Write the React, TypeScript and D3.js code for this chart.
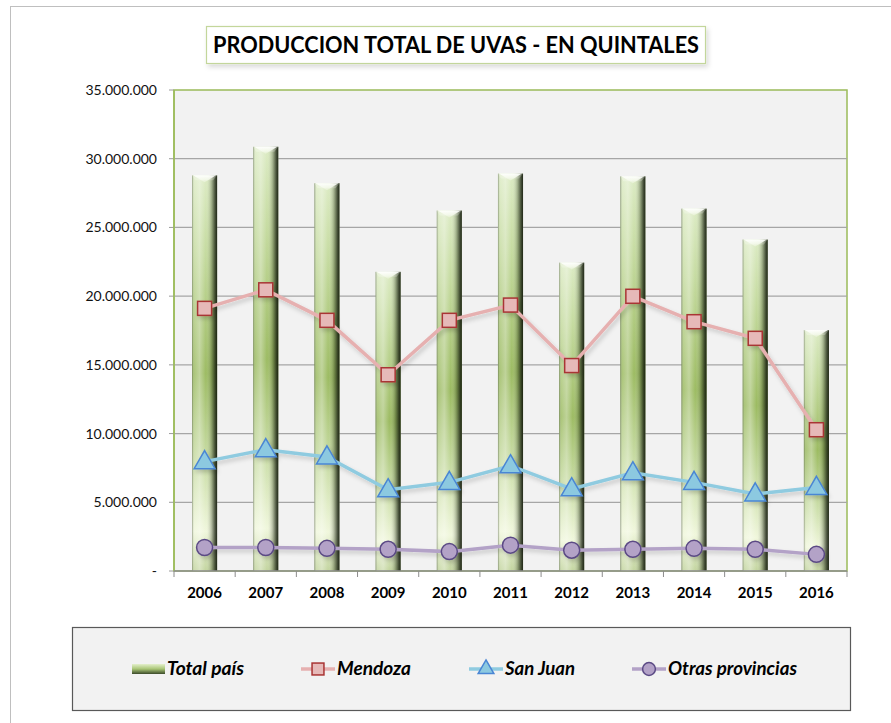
import React from "react";
import * as d3 from "d3";

const years = ["2006","2007","2008","2009","2010","2011","2012","2013","2014","2015","2016"];
const totalPais = [28790000,30870000,28220000,21770000,26230000,28920000,22440000,28720000,26370000,24120000,17530000];
const mendoza = [19110000,20460000,18240000,14280000,18240000,19350000,14950000,19990000,18140000,16930000,10280000];
const sanJuan = [7960000,8830000,8300000,5910000,6450000,7660000,5980000,7150000,6450000,5610000,6080000];
const otras = [1710000,1710000,1650000,1580000,1410000,1880000,1510000,1580000,1650000,1580000,1210000];
const yTicks = [0,5000000,10000000,15000000,20000000,25000000,30000000,35000000];
const title = "PRODUCCION TOTAL DE UVAS - EN QUINTALES";
const legendLabels = ["Total país","Mendoza","San Juan","Otras provincias"];

const W = 891, H = 723;
const plot = { left: 174, right: 847, top: 90, bottom: 571 };
const FONT = "Lato, 'Open Sans', sans-serif";

const fmt = (v: number) => v === 0 ? "-" : d3.format(",")(v).replace(/,/g, ".");

export default function App() {
  const x = d3.scaleBand<string>().domain(years).range([plot.left, plot.right]).paddingInner(0.59).paddingOuter(0.295);
  const y = d3.scaleLinear().domain([0, 35000000]).range([plot.bottom, plot.top]);
  const cx = (yr: string) => (x(yr) as number) + x.bandwidth() / 2;
  const line = d3.line<[string, number]>().x(d => cx(d[0])).y(d => y(d[1]));
  const step = x.step();
  const bw = x.bandwidth();

  const series = [
    { vals: mendoza, color: "#e6b0b0", fill: "#e6b9b8", stroke: "#a93434", shape: "square" },
    { vals: sanJuan, color: "#8fcbe0", fill: "#8cc9e0", stroke: "#4a86d4", shape: "triangle" },
    { vals: otras, color: "#b3a2c7", fill: "#b3a2c7", stroke: "#5b4a85", shape: "circle" },
  ];

  const marker = (shape: string, px: number, py: number, fill: string, stroke: string, k: string, s = 1) => {
    if (shape === "square") {
      const h = 7 * s;
      return <rect key={k} x={px - h} y={py - h} width={2 * h} height={2 * h} fill={fill} stroke={stroke} strokeWidth={1.5} />;
    }
    if (shape === "triangle") {
      const sym = d3.symbol().type(d3.symbolTriangle).size(190 * s * s)();
      return <path key={k} d={sym as string} transform={`translate(${px},${py + 1})`} fill={fill} stroke={stroke} strokeWidth={1.5} />;
    }
    return <circle key={k} cx={px} cy={py} r={8 * s} fill={fill} stroke={stroke} strokeWidth={1.5} />;
  };

  const legendItems = [
    { x0: 132, tx: 167, tl: 77 },
    { x0: 301, tx: 337, tl: 74 },
    { x0: 469, tx: 505, tl: 70 },
    { x0: 632, tx: 668, tl: 129 },
  ];

  return (
    <svg width={W} height={H} style={{ position: "absolute", left: 0, top: 0, background: "#fff" }} fontFamily={FONT}>
      <defs>
        <linearGradient id="barV" x1="0" y1="0" x2="0" y2="1">
          <stop offset="0%" stopColor="#dcebc4" />
          <stop offset="20%" stopColor="#c4da9e" />
          <stop offset="50%" stopColor="#9cbb62" />
          <stop offset="72%" stopColor="#c8dca4" />
          <stop offset="90%" stopColor="#f0f7dc" />
          <stop offset="100%" stopColor="#c2d49e" />
        </linearGradient>
        <linearGradient id="barH" x1="0" y1="0" x2="1" y2="0">
          <stop offset="0%" stopColor="#46523a" stopOpacity="0.55" />
          <stop offset="8%" stopColor="#ffffff" stopOpacity="0.15" />
          <stop offset="30%" stopColor="#ffffff" stopOpacity="0.35" />
          <stop offset="55%" stopColor="#ffffff" stopOpacity="0" />
          <stop offset="78%" stopColor="#1e2814" stopOpacity="0.3" />
          <stop offset="92%" stopColor="#141c0c" stopOpacity="0.75" />
          <stop offset="100%" stopColor="#0c1206" stopOpacity="0.9" />
        </linearGradient>
        <linearGradient id="capG" x1="0" y1="0" x2="0" y2="1">
          <stop offset="0%" stopColor="#ffffff" stopOpacity="0.95" />
          <stop offset="100%" stopColor="#eef6df" stopOpacity="0.6" />
        </linearGradient>
        <linearGradient id="legBar" x1="0" y1="0" x2="0" y2="1">
          <stop offset="0%" stopColor="#e4f0cc" />
          <stop offset="50%" stopColor="#a9c576" />
          <stop offset="100%" stopColor="#3b4a2a" />
        </linearGradient>
        <filter id="shadow" x="-10%" y="-10%" width="130%" height="140%">
          <feDropShadow dx="2" dy="3" stdDeviation="2" floodColor="#000" floodOpacity="0.18" />
        </filter>
        <filter id="tshadow" x="-5%" y="-20%" width="110%" height="160%">
          <feDropShadow dx="2" dy="3" stdDeviation="2.5" floodColor="#000" floodOpacity="0.15" />
        </filter>
      </defs>

      {/* outer chart border */}
      <rect x={10.5} y={6.5} width={1000} height={1000} fill="#fff" stroke="#bfbfbf" strokeWidth={1} />

      {/* title */}
      <rect x={206.5} y={26.5} width={499} height={37} fill="#fff" stroke="#c3d69b" strokeWidth={1.2} filter="url(#tshadow)" />
      <text x={456} y={53} textAnchor="middle" fontSize={22} fontWeight={700} fill="#000" textLength={486} lengthAdjust="spacingAndGlyphs">{title}</text>

      {/* plot area */}
      <rect x={plot.left} y={plot.top} width={plot.right - plot.left} height={plot.bottom - plot.top} fill="#f2f2f2" stroke="#9bbb59" strokeWidth={1.5} />
      {yTicks.filter(t => t > 0 && t < 35000000).map(t => (
        <line key={t} x1={plot.left} x2={plot.right} y1={y(t)} y2={y(t)} stroke="#a6a6a6" strokeWidth={1.3} />
      ))}
      {yTicks.map(t => (
        <g key={"yt" + t}>
          <line x1={plot.left - 5} x2={plot.left} y1={y(t)} y2={y(t)} stroke="#9a9a9a" />
          <text x={157} y={y(t) + 5} textAnchor="end" fontSize={14} fill="#111">{fmt(t)}</text>
        </g>
      ))}

      {/* bars */}
      {years.map((yr, i) => {
        const bx = x(yr) as number;
        const top = y(totalPais[i]);
        const h = plot.bottom - top;
        return (
          <g key={"b" + yr}>
            <rect x={bx} y={top} width={bw} height={h} fill="url(#barV)" />
            <rect x={bx} y={top} width={bw} height={h} fill="url(#barH)" />
            <polygon points={`${bx + 1},${top} ${bx + bw - 1},${top} ${bx + bw / 2},${top + 7}`} fill="url(#capG)" />
            <polygon points={`${bx},${top} ${bx + 3},${top + 5} ${bx + bw - 4},${top + 5} ${bx + bw},${top}`} fill="#ffffff" fillOpacity={0.25} />
          </g>
        );
      })}

      {/* axes */}
      <line x1={plot.left} x2={plot.left} y1={plot.top} y2={plot.bottom} stroke="#9bbb59" strokeWidth={1.5} />
      <line x1={plot.left} x2={plot.right} y1={plot.bottom} y2={plot.bottom} stroke="#8c8c8c" strokeWidth={1.3} />
      {d3.range(years.length + 1).map(k => (
        <line key={"xt" + k} x1={plot.left + k * step} x2={plot.left + k * step} y1={plot.bottom} y2={plot.bottom + 6} stroke="#8c8c8c" />
      ))}
      {years.map(yr => (
        <text key={"xl" + yr} x={cx(yr)} y={598} textAnchor="middle" fontSize={15} fontWeight={700} fill="#000">{yr}</text>
      ))}

      {/* lines */}
      {series.map((s, si) => (
        <g key={"s" + si} filter="url(#shadow)">
          <path d={line(years.map((yr, i) => [yr, s.vals[i]]) as any) as string} fill="none" stroke={s.color} strokeWidth={3.5} />
          {years.map((yr, i) => marker(s.shape, cx(yr), y(s.vals[i]), s.fill, s.stroke, `m${si}-${i}`))}
        </g>
      ))}

      {/* legend */}
      <rect x={72.5} y={627.5} width={778} height={83} fill="#f2f2f2" stroke="#595959" strokeWidth={1.2} />
      <g>
        <rect x={legendItems[0].x0} y={664} width={33} height={10} fill="url(#legBar)" />
        {series.map((s, si) => {
          const it = legendItems[si + 1];
          return (
            <g key={"lg" + si}>
              <line x1={it.x0} x2={it.x0 + 34} y1={669} y2={669} stroke={s.color} strokeWidth={3.5} />
              {marker(s.shape, it.x0 + 17, s.shape === "triangle" ? 668 : 669, s.fill, s.stroke, "lm" + si, s.shape === "square" ? 0.85 : s.shape === "triangle" ? 0.75 : 0.8)}
            </g>
          );
        })}
        {legendLabels.map((lab, i) => (
          <text key={"lt" + i} x={legendItems[i].tx} y={675} fontSize={18} fontWeight={700} fontStyle="italic" fill="#000"
            textLength={legendItems[i].tl} lengthAdjust="spacingAndGlyphs">{lab}</text>
        ))}
      </g>
    </svg>
  );
}
